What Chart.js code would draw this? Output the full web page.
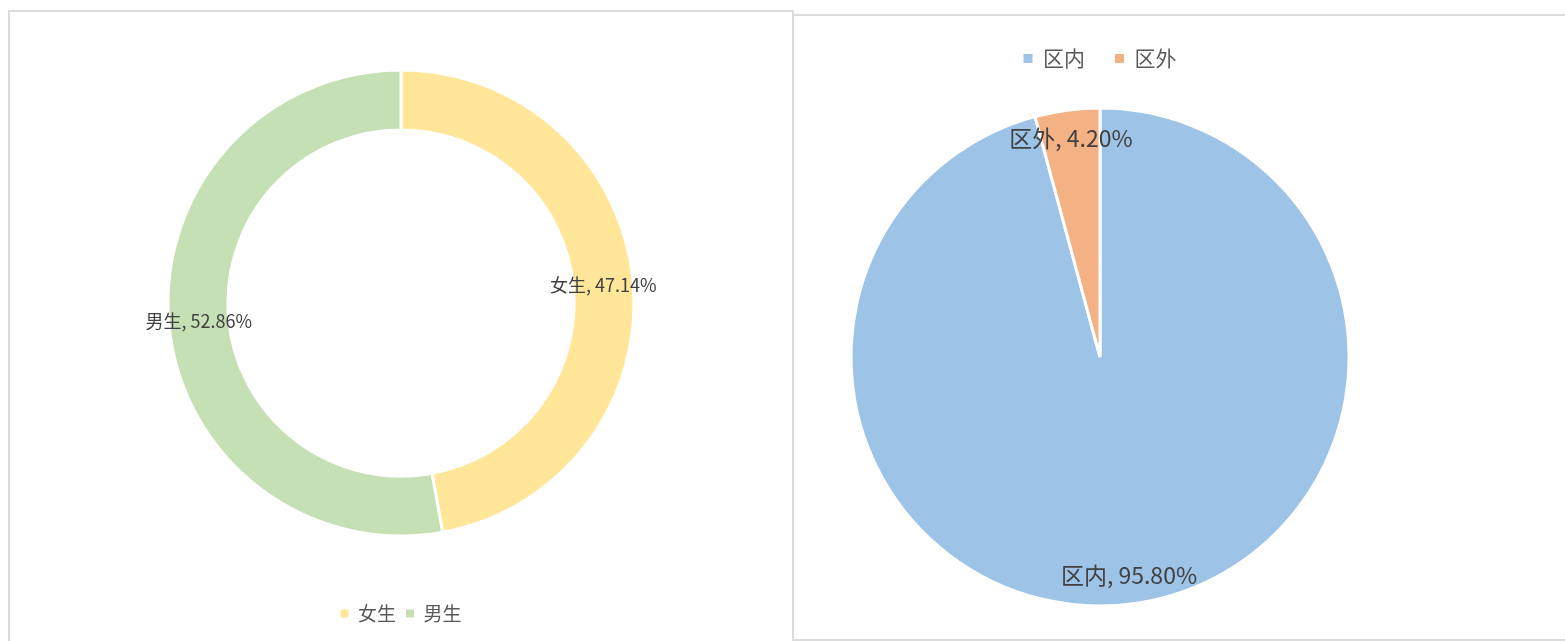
<!DOCTYPE html>
<html>
<head>
<meta charset="utf-8">
<script src="https://cdn.jsdelivr.net/npm/chart.js@4/dist/chart.umd.min.js"></script>
<style>
    body { margin: 0; background: #fff; width: 1565px; height: 641px; position: relative; overflow: hidden; }
    .panel { position: absolute; box-sizing: border-box; background: #fff; }
    #leftPanel { left: 8px; top: 10px; width: 786px; height: 645px; border: 2px solid #dcdcdc; }
    #rightPanel { left: 792px; top: 14px; width: 780px; height: 627px; border: 2px solid #dcdcdc; }
    canvas { position: absolute; left: 0; top: 0; }
</style>
</head>
<body>
<div class="panel" id="leftPanel"><canvas id="genderChart" width="782" height="629"></canvas></div>
<div class="panel" id="rightPanel"><canvas id="areaChart" width="771" height="623"></canvas></div>

<script>
// dati
const genderLabels = ["女生", "男生"];
const genderValues = [47.14, 52.86];
const genderColors = ["#FFE699", "#C5E0B4"];

const areaLabels = ["区内", "区外"];
const areaValues = [95.80, 4.20];
const areaColors = ["#9DC3E6", "#F4B183"];

const FONT = "'Noto Sans CJK SC', 'Noto Sans', sans-serif";

// etichette "nome, valore%" sulle fette
const sliceLabels = {
    id: "sliceLabels",
    afterDatasetsDraw(chart, args, opts) {
        const ctx = chart.ctx;
        const meta = chart.getDatasetMeta(0);
        const labels = chart.data.labels;
        const values = chart.data.datasets[0].data;
        ctx.save();
        ctx.font = opts.size + "px " + FONT;
        ctx.fillStyle = "#404040";
        ctx.textAlign = "center";
        ctx.textBaseline = "middle";
        meta.data.forEach((arc, i) => {
            const p = arc.getProps(["x", "y", "startAngle", "endAngle", "innerRadius", "outerRadius"], true);
            const mid = (p.startAngle + p.endAngle) / 2;
            const r = p.innerRadius > 0 ? (p.innerRadius + p.outerRadius) / 2 : p.outerRadius * opts.factor;
            const x = p.x + Math.cos(mid) * r;
            const y = p.y + Math.sin(mid) * r;
            ctx.fillText(labels[i] + ", " + values[i].toFixed(2) + "%", x, y);
        });
        ctx.restore();
    }
};

function legendLabels(size, box, padding) {
    return {
        color: "#595959",
        font: { family: FONT, size: size },
        boxWidth: box,
        boxHeight: box,
        padding: padding,
        generateLabels(chart) {
            const items = Chart.overrides.doughnut.plugins.legend.labels.generateLabels(chart);
            return items.map(it => Object.assign(it, { lineWidth: 0, strokeStyle: it.fillStyle }));
        }
    };
}

new Chart(document.getElementById("genderChart"), {
    type: "doughnut",
    data: {
        labels: genderLabels,
        datasets: [{
            data: genderValues,
            backgroundColor: genderColors,
            borderColor: "#ffffff",
            borderWidth: 3,
            radius: 233,
            cutout: "74.3%"
        }]
    },
    options: {
        responsive: false,
        animation: false,
        layout: { padding: { top: 0, bottom: 8, left: 0, right: 0 } },
        plugins: {
            legend: { position: "bottom", labels: legendLabels(19, 8, 10) },
            tooltip: { enabled: false },
            sliceLabels: { size: 18, factor: 1 }
        }
    },
    plugins: [sliceLabels]
});

new Chart(document.getElementById("areaChart"), {
    type: "pie",
    data: {
        labels: areaLabels,
        datasets: [{
            data: areaValues,
            backgroundColor: areaColors,
            borderColor: "#ffffff",
            borderWidth: 3,
            radius: 249
        }]
    },
    options: {
        responsive: false,
        animation: false,
        layout: { padding: { top: 2, bottom: 4, left: 0, right: 159 } },
        plugins: {
            legend: { position: "top", labels: legendLabels(21, 9, 30) },
            tooltip: { enabled: false },
            sliceLabels: { size: 23, factor: 0.885 }
        }
    },
    plugins: [sliceLabels]
});
</script>
</body>
</html>
